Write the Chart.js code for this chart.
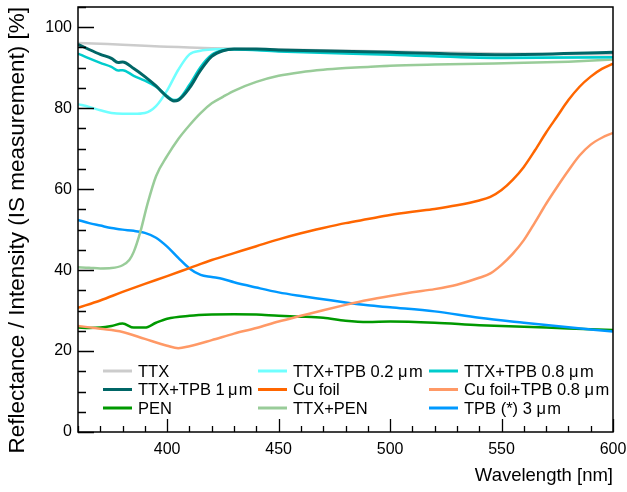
<!DOCTYPE html>
<html>
<head>
<meta charset="utf-8">
<script src="https://cdn.jsdelivr.net/npm/chart.js@4.4.1/dist/chart.umd.min.js"></script>
<style>
  html, body { margin: 0; padding: 0; background: #fff; }
  #wrap { width: 627px; height: 492px; position: relative; }
</style>
</head>
<body>
<div id="wrap"><canvas id="graphic" width="627" height="492"></canvas></div>
<script>
// values (wavelength in nm, reflectance in %)
const wlTtx = [360, 370, 380, 390, 400, 410, 420, 430, 450, 500, 550, 600]
const rTtx = [96.1, 95.9, 95.7, 95.4, 95.2, 95.0, 94.8, 94.7, 94.5, 94.0, 93.5, 93.3]

const wl1um = [360, 365, 370, 375, 378, 380, 385, 390, 395, 400, 403, 405, 410, 415, 420, 425, 430, 440, 450, 500, 550, 600]
const r1um = [95.8, 94.5, 93.3, 92.3, 91.3, 91.4, 89.8, 87.8, 85.5, 82.8, 81.8, 82.0, 85.0, 89.4, 92.8, 94.2, 94.6, 94.6, 94.4, 93.8, 93.2, 93.8]

const wl02um = [360, 365, 370, 375, 380, 385, 390, 395, 400, 405, 410, 415, 420, 430, 450, 500, 550, 600]
const r02um = [81.0, 80.3, 79.5, 78.8, 78.6, 78.6, 78.8, 80.5, 84.4, 89.5, 93.3, 94.2, 94.5, 94.6, 94.2, 93.4, 92.5, 92.6]

const wl08um = [360, 365, 370, 375, 378, 380, 385, 390, 395, 400, 403, 405, 410, 415, 420, 425, 430, 450, 500, 550, 600]
const r08um = [93.5, 92.3, 91.2, 90.2, 89.3, 89.4, 88.0, 86.8, 85.3, 83.0, 82.0, 82.2, 85.8, 90.2, 93.2, 94.3, 94.5, 94.0, 93.2, 92.4, 92.6]

const wlCu = [360, 370, 380, 390, 400, 410, 420, 430, 440, 450, 460, 470, 480, 490, 500, 510, 520, 530, 540, 545, 550, 555, 560, 565, 570, 575, 580, 585, 590, 595, 600]
const rCu = [30.7, 32.5, 34.6, 36.6, 38.5, 40.5, 42.5, 44.2, 45.9, 47.6, 49.1, 50.4, 51.6, 52.6, 53.6, 54.4, 55.1, 56.0, 57.2, 58.1, 59.8, 62.3, 65.5, 69.6, 74.0, 78.0, 82.0, 85.3, 87.8, 89.7, 91.0]

const wlCuTpb = [360, 370, 380, 390, 400, 405, 410, 420, 430, 440, 450, 460, 470, 480, 490, 500, 510, 520, 530, 540, 545, 550, 555, 560, 565, 570, 575, 580, 585, 590, 595, 600]
const rCuTpb = [26.2, 25.5, 24.7, 23.0, 21.3, 20.7, 21.2, 22.7, 24.3, 25.7, 27.3, 28.7, 30.1, 31.4, 32.6, 33.6, 34.5, 35.3, 36.4, 38.1, 39.2, 41.3, 44.0, 47.4, 51.8, 56.4, 60.6, 64.6, 68.3, 71.0, 72.7, 73.9]

const wlPen = [360, 365, 370, 375, 380, 385, 390, 395, 400, 410, 420, 430, 440, 450, 460, 470, 480, 490, 500, 520, 540, 560, 580, 600]
const rPen = [25.8, 25.7, 25.8, 26.2, 26.8, 25.8, 25.8, 27.0, 28.0, 28.7, 29.0, 29.1, 29.0, 28.7, 28.5, 28.2, 27.5, 27.2, 27.3, 27.0, 26.4, 26.0, 25.6, 25.2]

const wlTtxPen = [360, 365, 370, 375, 380, 383, 385, 388, 391, 395, 400, 405, 410, 415, 420, 425, 430, 440, 450, 460, 470, 480, 490, 500, 520, 540, 560, 580, 600]
const rTtxPen = [40.7, 40.6, 40.4, 40.5, 41.2, 42.5, 44.5, 49.5, 56.0, 63.2, 68.2, 72.4, 75.8, 78.8, 81.2, 82.8, 84.3, 86.5, 88.0, 88.9, 89.5, 89.9, 90.2, 90.5, 90.8, 91.0, 91.2, 91.5, 92.0]

const wlTpb = [360, 365, 370, 375, 380, 385, 390, 395, 400, 405, 410, 415, 420, 425, 430, 440, 450, 460, 470, 480, 490, 500, 520, 540, 560, 580, 600]
const rTpb = [52.4, 51.6, 51.0, 50.4, 50.0, 49.7, 49.2, 48.0, 45.8, 43.0, 40.4, 38.8, 38.3, 37.8, 37.0, 35.7, 34.5, 33.6, 32.8, 32.0, 31.3, 30.8, 29.8, 28.2, 27.0, 25.9, 24.8]

const xTicks = [400, 450, 500, 550, 600]
const yTicks = [0, 20, 40, 60, 80, 100]

const FONT = "'Liberation Sans', Arial, Helvetica, sans-serif"
const MU = "\u03bc\u200am"

let pts = (xs, ys) => xs.map((x, i) => ({ x: x, y: ys[i] }))

let line = (label, xs, ys, color, width) => ({
  label: label,
  data: pts(xs, ys),
  borderColor: color,
  backgroundColor: color,
  borderWidth: width || 2.5,
  pointRadius: 0,
  cubicInterpolationMode: 'monotone',
  fill: false,
})

// first dataset is drawn on top
const datasets = [
  line("TTX+TPB 1\u2009" + MU, wl1um, r1um, "#006666", 3),
  line("TTX+TPB 0.8 " + MU, wl08um, r08um, "#00cccc"),
  line("TTX+TPB 0.2 " + MU, wl02um, r02um, "#70ffff"),
  line("TTX", wlTtx, rTtx, "#cccccc"),
  line("TTX+PEN", wlTtxPen, rTtxPen, "#99cc99"),
  line("Cu foil", wlCu, rCu, "#ff6600"),
  line("Cu foil+TPB 0.8 " + MU, wlCuTpb, rCuTpb, "#ff9966"),
  line("TPB (*) 3 " + MU, wlTpb, rTpb, "#0099ff"),
  line("PEN", wlPen, rPen, "#009900"),
]

// legend layout: rows of three, as in the reference
const legendOrder = [
  ["TTX", "TTX+TPB 0.2 " + MU, "TTX+TPB 0.8 " + MU],
  ["TTX+TPB 1\u2009" + MU, "Cu foil", "Cu foil+TPB 0.8 " + MU],
  ["PEN", "TTX+PEN", "TPB (*) 3 " + MU],
]

const framePlugin = {
  id: 'frame',
  afterDatasetsDraw(chart) {
    const ctx = chart.ctx
    const a = chart.chartArea
    const xs = chart.scales.x
    const ys = chart.scales.y
    ctx.save()
    ctx.strokeStyle = "#000"
    ctx.lineWidth = 1.3

    // minor/major ticks pointing inward
    ctx.beginPath()
    for (let v = 360; v <= 600; v += 10) {
      const px = Math.round(xs.getPixelForValue(v)) + 0.5
      const len = v % 50 === 0 ? 13 : 6
      ctx.moveTo(px, a.bottom)
      ctx.lineTo(px, a.bottom - len)
    }
    for (let v = 0; v <= 105; v += 5) {
      const py = Math.round(ys.getPixelForValue(v)) + 0.5
      const len = v % 20 === 0 ? 16 : 8
      ctx.moveTo(a.left, py)
      ctx.lineTo(a.left + len, py)
    }
    ctx.stroke()

    ctx.lineWidth = 1.5
    ctx.strokeRect(a.left, a.top, a.right - a.left, a.bottom - a.top)

    // legend
    const colX = [103, 258, 429]
    const rowY = [371, 389.5, 408]
    ctx.font = "16.5px " + FONT
    ctx.textBaseline = "middle"
    ctx.textAlign = "left"
    legendOrder.forEach((row, r) => {
      row.forEach((name, c) => {
        const ds = chart.data.datasets.find(d => d.label === name)
        ctx.strokeStyle = ds.borderColor
        ctx.lineWidth = 3
        ctx.beginPath()
        ctx.moveTo(colX[c], rowY[r])
        ctx.lineTo(colX[c] + 29, rowY[r])
        ctx.stroke()
        ctx.fillStyle = "#000"
        ctx.fillText(name, colX[c] + 35, rowY[r] + 1)
      })
    })
    ctx.restore()
  }
}

const graphic = document.querySelector("#graphic")
const chart = new Chart(graphic, {
  type: 'line',
  data: { datasets: datasets },
  options: {
    responsive: false,
    animation: false,
    events: [],
    layout: { padding: { left: 0, right: 14, top: 7, bottom: 0 } },
    plugins: { legend: { display: false }, tooltip: { enabled: false } },
    scales: {
      x: {
        type: 'linear',
        min: 360,
        max: 600,
        afterBuildTicks: (s) => { s.ticks = xTicks.map(v => ({ value: v })) },
        afterFit: (s) => { s.height = 60; s.paddingLeft = 0; s.paddingRight = 0 },
        grid: { display: false, drawTicks: false },
        border: { display: false },
        ticks: { color: "#000", font: { family: FONT, size: 16 }, padding: 8, maxRotation: 0 },
        title: {
          display: true,
          text: "Wavelength [nm]",
          align: 'end',
          color: "#000",
          font: { family: FONT, size: 18.5 },
          padding: { top: 0, bottom: 5 },
        },
      },
      y: {
        type: 'linear',
        min: 0,
        max: 105,
        afterBuildTicks: (s) => { s.ticks = yTicks.map(v => ({ value: v })) },
        afterFit: (s) => { s.width = 78; s.paddingTop = 0; s.paddingBottom = 0 },
        grid: { display: false, drawTicks: false },
        border: { display: false },
        ticks: { color: "#000", font: { family: FONT, size: 16 }, padding: 6 },
        title: {
          display: true,
          text: "Reflectance / Intensity (IS measurement) [%]",
          align: 'end',
          color: "#000",
          font: { family: FONT, size: 22.5 },
          padding: { top: 4.5, bottom: 0 },
        },
      },
    },
  },
  plugins: [framePlugin],
})
</script>
</body>
</html>
